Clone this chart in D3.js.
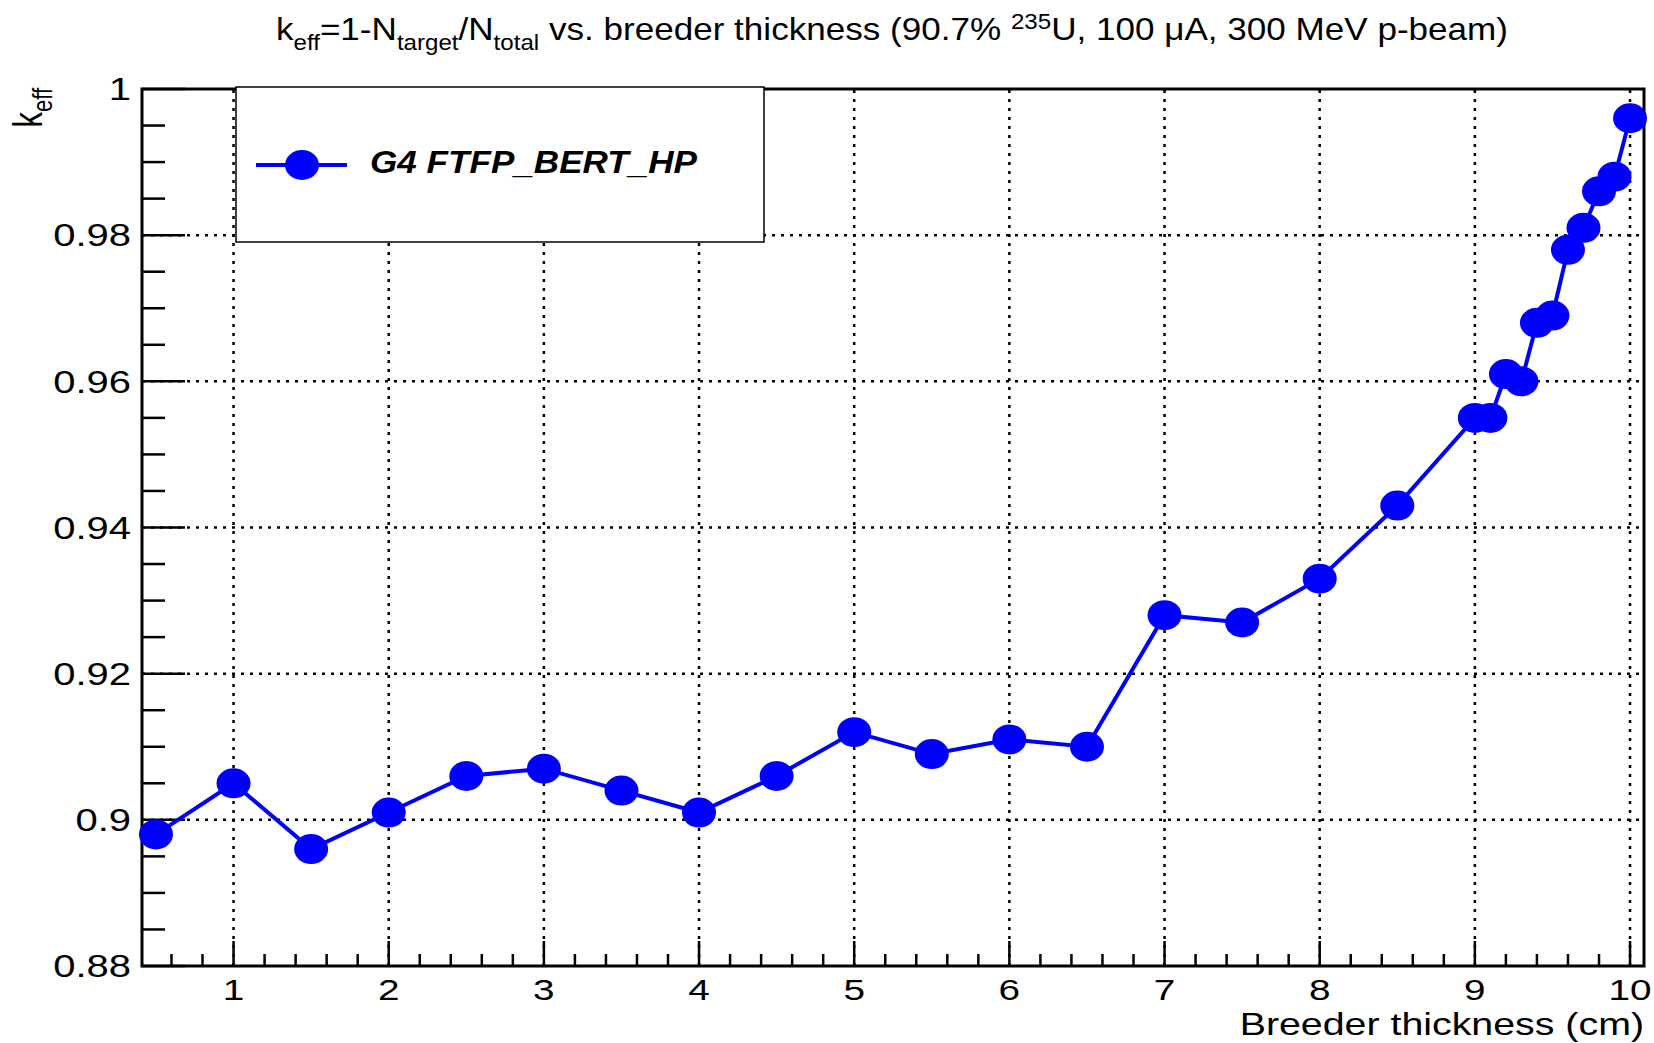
<!DOCTYPE html>
<html>
<head>
<meta charset="utf-8">
<script src="https://cdn.jsdelivr.net/npm/d3@7"></script>
<style>
  body { margin: 0; background: #fff; }
  svg { display: block; font-family: "Liberation Sans", Arial, sans-serif; }
</style>
</head>
<body>
<svg id="chart" width="1654" height="1043"></svg>
<script>
// data
const thickness = [0.5, 1, 1.5, 2, 2.5, 3, 3.5, 4, 4.5, 5, 5.5, 6, 6.5, 7, 7.5, 8, 8.5,
                   9, 9.1, 9.2, 9.3, 9.4, 9.5, 9.6, 9.7, 9.8, 9.9, 10];
const keff = [0.898, 0.905, 0.896, 0.901, 0.906, 0.907, 0.904, 0.901, 0.906, 0.912, 0.909, 0.911, 0.910,
              0.928, 0.927, 0.933, 0.943,
              0.955, 0.955, 0.961, 0.960, 0.968, 0.969, 0.978, 0.981, 0.986, 0.988, 0.996];

const xTicks = [1, 2, 3, 4, 5, 6, 7, 8, 9, 10];
const yTicks = [0.88, 0.9, 0.92, 0.94, 0.96, 0.98, 1];
const yTickLabels = ['0.88', '0.9', '0.92', '0.94', '0.96', '0.98', '1'];
const seriesName = 'G4 FTFP_BERT_HP';

const svg = d3.select('#chart');
const frame = { left: 142, right: 1644, top: 89, bottom: 966 };
const stretch = 1.29; // the ROOT text is wide

const x = d3.scaleLinear().domain([0.41, 10.09]).range([frame.left, frame.right]);
const y = d3.scaleLinear().domain([0.88, 1]).range([frame.bottom, frame.top]);

// grid
const grid = svg.append('g')
    .attr('stroke', '#000')
    .attr('stroke-width', 2.5)
    .attr('stroke-dasharray', '3 6');

grid.selectAll('.vgrid')
    .data(xTicks)
    .enter()
    .append('line')
    .attr('x1', d => x(d)).attr('x2', d => x(d))
    .attr('y1', frame.bottom).attr('y2', frame.top);

grid.selectAll('.hgrid')
    .data(yTicks.slice(1, -1))
    .enter()
    .append('line')
    .attr('x1', frame.left).attr('x2', frame.right)
    .attr('y1', d => y(d)).attr('y2', d => y(d));

// frame
svg.append('rect')
    .attr('x', frame.left).attr('y', frame.top)
    .attr('width', frame.right - frame.left)
    .attr('height', frame.bottom - frame.top)
    .attr('fill', 'none')
    .attr('stroke', '#000')
    .attr('stroke-width', 3);

// x axis ticks
const xMinor = d3.range(0.6, 10.01, 0.2).filter(v => Math.abs(v - Math.round(v)) > 0.01);
const xAxis = svg.append('g').attr('stroke', '#000').attr('stroke-width', 2.5);
xAxis.selectAll('.major')
    .data(xTicks)
    .enter()
    .append('line')
    .attr('x1', d => x(d)).attr('x2', d => x(d))
    .attr('y1', frame.bottom).attr('y2', frame.bottom - 25);
xAxis.selectAll('.minor')
    .data(xMinor)
    .enter()
    .append('line')
    .attr('x1', d => x(d)).attr('x2', d => x(d))
    .attr('y1', frame.bottom).attr('y2', frame.bottom - 12);

svg.selectAll('.xlabel')
    .data(xTicks)
    .enter()
    .append('text')
    .attr('transform', d => `translate(${x(d)}, 1000) scale(${stretch}, 1)`)
    .attr('text-anchor', 'middle')
    .attr('font-size', 30)
    .text(d => d);

// y axis ticks
const yMinor = d3.range(0.885, 1.0, 0.005).filter(v => Math.abs(v * 50 - Math.round(v * 50)) > 0.01);
const yAxis = svg.append('g').attr('stroke', '#000').attr('stroke-width', 2.5);
yAxis.selectAll('.major')
    .data(yTicks)
    .enter()
    .append('line')
    .attr('x1', frame.left).attr('x2', frame.left + 43)
    .attr('y1', d => y(d)).attr('y2', d => y(d));
yAxis.selectAll('.minor')
    .data(yMinor)
    .enter()
    .append('line')
    .attr('x1', frame.left).attr('x2', frame.left + 23)
    .attr('y1', d => y(d)).attr('y2', d => y(d));

svg.selectAll('.ylabel')
    .data(yTicks)
    .enter()
    .append('text')
    .attr('transform', d => `translate(${frame.left - 11}, ${y(d)}) scale(${stretch}, 1)`)
    .attr('dy', '0.36em')
    .attr('text-anchor', 'end')
    .attr('font-size', 31)
    .text((d, i) => yTickLabels[i]);

// axis titles
svg.append('text')
    .attr('transform', `translate(${frame.right}, 1035) scale(${stretch}, 1)`)
    .attr('text-anchor', 'end')
    .attr('font-size', 30.5)
    .text('Breeder thickness (cm)');

const yTitle = svg.append('text')
    .attr('transform', `translate(42, ${frame.top - 1}) rotate(-90) scale(1, ${stretch})`)
    .attr('text-anchor', 'end')
    .attr('font-size', 31);
yTitle.append('tspan').text('k');
yTitle.append('tspan').attr('font-size', 22).attr('dy', 8).text('eff');

// title
const title = svg.append('text')
    .attr('x', 276)
    .attr('y', 40)
    .attr('font-size', 32);
const titleParts = [
    ['k', 0], ['eff', 1], ['=1-N', 0], ['target', 1], ['/N', 0], ['total', 1],
    [' vs. breeder thickness (90.7% ', 0], ['235', -1], ['U, 100 \u03bcA, 300 MeV p-beam)', 0]
];
let shift = 0;
titleParts.forEach(([t, pos]) => {
    const target = pos === 1 ? 10 : pos === -1 ? -11 : 0;
    title.append('tspan')
        .attr('dy', target - shift)
        .attr('font-size', pos === 0 ? 32 : 22)
        .text(t);
    shift = target;
});
title.attr('textLength', 1232).attr('lengthAdjust', 'spacingAndGlyphs');

// series
const line = d3.line()
    .x((d, i) => x(thickness[i]))
    .y(d => y(d));

svg.append('path')
    .datum(keff)
    .attr('fill', 'none')
    .attr('stroke', '#0000ff')
    .attr('stroke-width', 4)
    .attr('d', line);

svg.selectAll('.pt')
    .data(keff)
    .enter()
    .append('ellipse')
    .attr('cx', (d, i) => x(thickness[i]))
    .attr('cy', d => y(d))
    .attr('rx', 17)
    .attr('ry', 15)
    .attr('fill', '#0000ff');

// legend
const legend = svg.append('g');
legend.append('rect')
    .attr('x', 236).attr('y', 87)
    .attr('width', 528).attr('height', 155)
    .attr('fill', '#fff')
    .attr('stroke', '#000')
    .attr('stroke-width', 1.5);
legend.append('line')
    .attr('x1', 256).attr('x2', 347)
    .attr('y1', 165).attr('y2', 165)
    .attr('stroke', '#0000ff')
    .attr('stroke-width', 4);
legend.append('ellipse')
    .attr('cx', 302).attr('cy', 165)
    .attr('rx', 17).attr('ry', 15)
    .attr('fill', '#0000ff');
legend.append('text')
    .attr('x', 370).attr('y', 173)
    .attr('font-size', 31)
    .attr('font-weight', 'bold')
    .attr('font-style', 'italic')
    .attr('textLength', 327)
    .attr('lengthAdjust', 'spacingAndGlyphs')
    .text(seriesName);
</script>
</body>
</html>
